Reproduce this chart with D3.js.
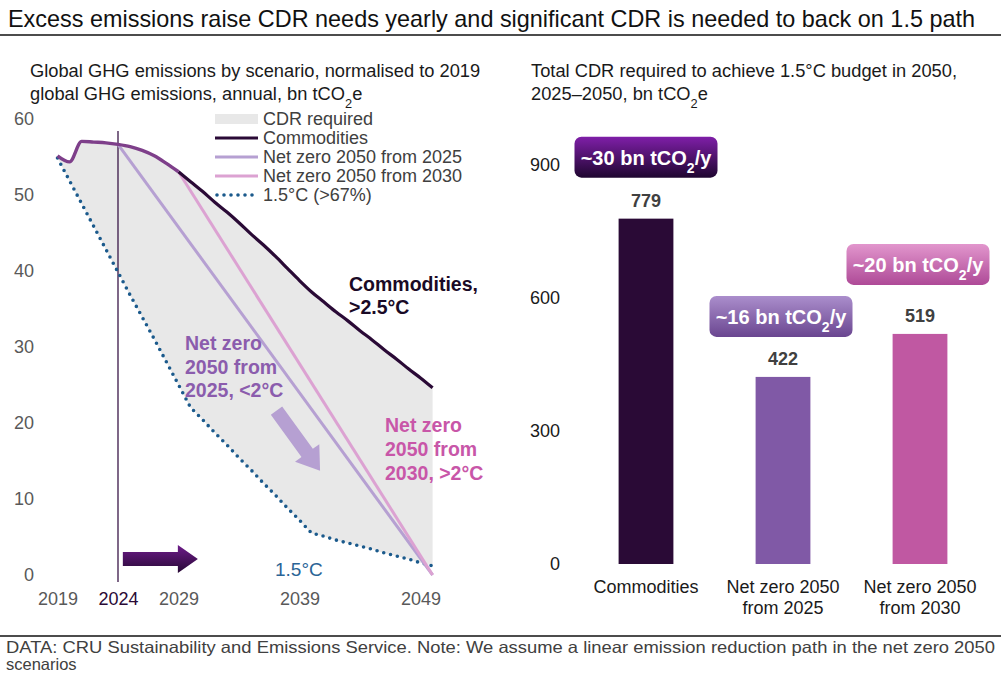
<!DOCTYPE html>
<html>
<head>
<meta charset="utf-8">
<script src="https://cdn.jsdelivr.net/npm/d3@7"></script>
<style>
  body { margin: 0; background: #fff; }
  svg { display: block; font-family: "Liberation Sans", Arial, sans-serif; }
</style>
</head>
<body>
<svg id="chart" width="1006" height="679"></svg>
<script>
// ---- data ----
const years = [2019, 2020, 2021, 2022, 2023, 2024, 2025, 2026, 2027, 2028, 2029, 2030,
  2031, 2032, 2033, 2034, 2035, 2036, 2037, 2038, 2039, 2040,
  2041, 2042, 2043, 2044, 2045, 2046, 2047, 2048, 2049, 2050];

// Commodities scenario (>2.5°C), bn tCO2e
const commodities = [55.1, 54.3, 57.0, 56.9, 56.8, 56.6, 56.3, 55.8, 55.1, 54.1, 53.0, 51.7,
  50.4, 49.0, 47.7, 46.3, 44.8, 43.4, 41.9, 40.3, 38.7, 37.2,
  35.9, 34.6, 33.4, 32.1, 30.9, 29.6, 28.4, 27.1, 25.9, 24.6];

// 1.5°C (>67%) pathway
const onePointFive = [54.8, 51.8, 48.8, 45.8, 42.8, 39.8, 36.8, 33.9, 31.0, 28.0, 25.0, 22.0,
  20.4, 18.7, 17.1, 15.4, 13.8, 12.1, 10.5, 8.8, 7.2, 5.5,
  5.1, 4.6, 4.2, 3.8, 3.4, 2.9, 2.5, 2.1, 1.6, 1.2];

// linear net zero paths [year, value]
const netZero2025 = [[2024, 56.6], [2050, 0]];
const netZero2030 = [[2029, 53.0], [2050, 0]];
const sharedUntil = 2029;   // lines overlap the commodities path up to here

const leftYTicks = [0, 10, 20, 30, 40, 50, 60];
const leftXTicks = [2019, 2024, 2029, 2039, 2049];

const barCategories = [["Commodities"], ["Net zero 2050", "from 2025"], ["Net zero 2050", "from 2030"]];
const barValues = [779, 422, 519];
const barRates = ["~30", "~16", "~20"];
const rightYTicks = [0, 300, 600, 900];

// ---- styles ----
const cDark = "#2a0a36";
const cShared = "#7e3f8a";
const cLav = "#b6a0d2";
const cPink = "#dca2d2";
const cDots = "#1b5a8c";
const barColors = ["#2a0a36", "#8059a6", "#c058a2"];
const badgeStops = [["#7f1fa8", "#1f0630"], ["#ab8ecc", "#6a4690"], ["#e296cd", "#ae4a97"]];
const badgeGap = [41, 40, 49];

const svg = d3.select("#chart");
const defs = svg.append("defs");

// helper: text with CO2 subscript
function co2Text(sel, before, after) {
  sel.append("tspan").text(before + "CO");
  sel.append("tspan").attr("baseline-shift", "sub").attr("font-size", "70%").text("2");
  sel.append("tspan").text(after);
}

// helper: block arrow polygon between two pixel points
function arrowPath(p0, p1, w, h, L) {
  const dx = p1[0] - p0[0], dy = p1[1] - p0[1];
  const len = Math.hypot(dx, dy);
  const ux = dx / len, uy = dy / len, nx = -uy, ny = ux;
  const bx = p1[0] - ux * L, by = p1[1] - uy * L;
  const pts = [
    [p0[0] + nx * w, p0[1] + ny * w],
    [bx + nx * w, by + ny * w],
    [bx + nx * h, by + ny * h],
    p1,
    [bx - nx * h, by - ny * h],
    [bx - nx * w, by - ny * w],
    [p0[0] - nx * w, p0[1] - ny * w]
  ];
  return "M" + pts.map(p => p.join(",")).join("L") + "Z";
}

// ---- title and footer ----
svg.append("text")
  .attr("x", 8).attr("y", 27)
  .attr("font-size", 24).attr("fill", "#111")
  .attr("textLength", 967).attr("lengthAdjust", "spacingAndGlyphs")
  .text("Excess emissions raise CDR needs yearly and significant CDR is needed to back on 1.5 path");
svg.append("line").attr("x1", 0).attr("x2", 1001).attr("y1", 35).attr("y2", 35)
  .attr("stroke", "#111").attr("stroke-width", 1.5);

svg.append("line").attr("x1", 0).attr("x2", 1001).attr("y1", 636).attr("y2", 636)
  .attr("stroke", "#111").attr("stroke-width", 1.5);
svg.append("text")
  .attr("x", 6).attr("y", 653).attr("font-size", 16.5).attr("fill", "#404040")
  .attr("textLength", 989).attr("lengthAdjust", "spacingAndGlyphs")
  .text("DATA: CRU Sustainability and Emissions Service. Note: We assume a linear emission reduction path in the net zero 2050");
svg.append("text")
  .attr("x", 6).attr("y", 670).attr("font-size", 16.5).attr("fill", "#404040")
  .text("scenarios");

// ================= LEFT: emissions by scenario =================
const xL = d3.scaleLinear().domain([2019, 2049]).range([57.5, 420.5]);
const yL = d3.scaleLinear().domain([0, 60]).range([575, 118.5]);

const sub1 = svg.append("text").attr("x", 30).attr("y", 77).attr("font-size", 18.3).attr("fill", "#1a1a1a");
sub1.text("Global GHG emissions by scenario, normalised to 2019");
const sub2 = svg.append("text").attr("x", 30).attr("y", 100).attr("font-size", 18.3).attr("fill", "#1a1a1a");
co2Text(sub2, "global GHG emissions, annual, bn t", "e");

const rows = years.map((yr, i) => ({ year: yr, com: commodities[i], lo: onePointFive[i] }));

// CDR required area
svg.append("path")
  .datum(rows)
  .attr("fill", "#e8e8e8")
  .attr("d", d3.area().x(d => xL(d.year)).y0(d => yL(d.lo)).y1(d => yL(d.com)));

// axes
const gy = svg.append("g").attr("transform", "translate(38,0)")
  .call(d3.axisLeft(yL).tickValues(leftYTicks).tickSize(0).tickPadding(4));
gy.select(".domain").remove();
gy.selectAll("text").attr("font-size", 18).attr("fill", "#595959").attr("font-family", null);

const gx = svg.append("g").attr("transform", "translate(0,575)")
  .call(d3.axisBottom(xL).tickValues(leftXTicks).tickFormat(d3.format("d")).tickSize(0).tickPadding(17));
gx.select(".domain").remove();
gx.selectAll("text").attr("font-size", 18).attr("font-family", null)
  .attr("fill", d => d === 2024 ? cDark : "#595959");

// 2024 marker line
svg.append("line")
  .attr("x1", xL(2024)).attr("x2", xL(2024))
  .attr("y1", 131).attr("y2", 582)
  .attr("stroke", "#3a1648").attr("stroke-width", 1.3);

const line = d3.line().x(d => xL(d[0])).y(d => yL(d[1]));

// 1.5°C dotted
svg.append("path")
  .datum(rows.map(d => [d.year, d.lo]))
  .attr("fill", "none").attr("stroke", cDots).attr("stroke-width", 3.6)
  .attr("stroke-linecap", "round").attr("stroke-dasharray", "0,7")
  .attr("d", line);

// net zero lines
svg.append("path").datum(netZero2025)
  .attr("fill", "none").attr("stroke", cLav).attr("stroke-width", 3).attr("d", line);
svg.append("path").datum(netZero2030)
  .attr("fill", "none").attr("stroke", cPink).attr("stroke-width", 3).attr("d", line);

// commodities
const curve = d3.line().x(d => xL(d[0])).y(d => yL(d[1])).curve(d3.curveMonotoneX);
svg.append("path")
  .datum(rows.filter(d => d.year >= sharedUntil).map(d => [d.year, d.com]))
  .attr("fill", "none").attr("stroke", cDark).attr("stroke-width", 3.2).attr("d", curve);
svg.append("path")
  .datum(rows.filter(d => d.year <= sharedUntil).map(d => [d.year, d.com]))
  .attr("fill", "none").attr("stroke", cShared).attr("stroke-width", 3.4)
  .attr("stroke-linejoin", "round").attr("d", curve);

// arrows
const gradA = defs.append("linearGradient").attr("id", "gradArrow")
  .attr("x1", 0).attr("y1", 0).attr("x2", 0).attr("y2", 1);
gradA.append("stop").attr("offset", "0%").attr("stop-color", "#6e1c8a");
gradA.append("stop").attr("offset", "100%").attr("stop-color", "#260834");

svg.append("path")
  .attr("d", arrowPath([xL(2024.4), yL(2.1)], [xL(2030.6), yL(2.1)], 7, 14, 20))
  .attr("fill", "url(#gradArrow)");
svg.append("path")
  .attr("d", arrowPath([xL(2037.1), yL(21.6)], [xL(2040.7), yL(13.7)], 7, 15, 22))
  .attr("fill", cLav);

// legend
const legend = svg.append("g").attr("font-size", 18).attr("fill", "#404040");
const legendItems = [
  { label: "CDR required", type: "area" },
  { label: "Commodities", type: "line", color: cDark },
  { label: "Net zero 2050 from 2025", type: "line", color: cLav },
  { label: "Net zero 2050 from 2030", type: "line", color: cPink },
  { label: "1.5°C (>67%)", type: "dots", color: cDots }
];
legendItems.forEach((it, i) => {
  const by = 125 + i * 19;
  const cy = by - 6;
  if (it.type === "area") {
    legend.append("rect").attr("x", 215).attr("y", cy - 5).attr("width", 43).attr("height", 10).attr("fill", "#e8e8e8");
  } else {
    legend.append("line").attr("x1", it.type === "dots" ? 217 : 215).attr("x2", 258).attr("y1", cy).attr("y2", cy)
      .attr("stroke", it.color).attr("stroke-width", it.type === "dots" ? 3.6 : 3)
      .attr("stroke-linecap", it.type === "dots" ? "round" : "butt")
      .attr("stroke-dasharray", it.type === "dots" ? "0,7" : null);
  }
  legend.append("text").attr("x", 263).attr("y", by).text(it.label);
});

// annotations
function multiText(lines, x, y0, step, color, bold, size) {
  const t = svg.append("text").attr("font-size", size).attr("fill", color)
    .attr("font-weight", bold ? "bold" : "normal");
  lines.forEach((l, i) => t.append("tspan").attr("x", x).attr("y", y0 + i * step).text(l));
}
multiText(["Commodities,", ">2.5°C"], 349, 291, 23, "#1a0a26", true, 19.5);
multiText(["Net zero", "2050 from", "2025, <2°C"], 185, 350, 23.5, "#8b5cad", true, 19.5);
multiText(["Net zero", "2050 from", "2030, >2°C"], 385, 432, 24, "#c856a8", true, 19.5);
multiText(["1.5°C"], 275, 576, 0, "#2a6496", false, 19);

// ================= RIGHT: total CDR bars =================
const xR = d3.scaleBand().domain(d3.range(barValues.length))
  .range([577.5, 988.5]).paddingInner(0.6).paddingOuter(0.3);
const yR = d3.scaleLinear().domain([0, 900]).range([564, 165]);

const sub3 = svg.append("text").attr("x", 531).attr("y", 77).attr("font-size", 18.3).attr("fill", "#1a1a1a");
sub3.text("Total CDR required to achieve 1.5°C budget in 2050,");
const sub4 = svg.append("text").attr("x", 531).attr("y", 100).attr("font-size", 18.3).attr("fill", "#1a1a1a");
co2Text(sub4, "2025–2050, bn t", "e");

const gyR = svg.append("g").attr("transform", "translate(564,0)")
  .call(d3.axisLeft(yR).tickValues(rightYTicks).tickSize(0).tickPadding(4));
gyR.select(".domain").remove();
gyR.selectAll("text").attr("font-size", 18).attr("fill", "#1a1a1a").attr("font-family", null);

svg.selectAll(".bar").data(barValues).enter().append("rect")
  .attr("class", "bar")
  .attr("x", (d, i) => xR(i))
  .attr("width", xR.bandwidth())
  .attr("y", d => yR(d))
  .attr("height", d => yR(0) - yR(d))
  .attr("fill", (d, i) => barColors[i]);

svg.selectAll(".val").data(barValues).enter().append("text")
  .attr("class", "val")
  .attr("x", (d, i) => xR(i) + xR.bandwidth() / 2)
  .attr("y", d => yR(d) - 12)
  .attr("text-anchor", "middle").attr("font-size", 18).attr("font-weight", "bold").attr("fill", "#404040")
  .text(d => d);

barCategories.forEach((lines, i) => {
  const t = svg.append("text").attr("text-anchor", "middle").attr("font-size", 18).attr("fill", "#1a1a1a");
  lines.forEach((l, j) => t.append("tspan").attr("x", xR(i) + xR.bandwidth() / 2).attr("y", 593 + j * 21).text(l));
});

// badges with yearly CDR rate
barRates.forEach((r, i) => {
  const g = defs.append("linearGradient").attr("id", "badge" + i)
    .attr("x1", 0).attr("y1", 0).attr("x2", 0).attr("y2", 1);
  g.append("stop").attr("offset", "0%").attr("stop-color", badgeStops[i][0]);
  g.append("stop").attr("offset", "100%").attr("stop-color", badgeStops[i][1]);

  const cx = xR(i) + xR.bandwidth() / 2 + (i === 0 ? 0 : -2);
  const bottom = yR(barValues[i]) - badgeGap[i];
  svg.append("rect")
    .attr("x", cx - 71.5).attr("y", bottom - 41)
    .attr("width", 143).attr("height", 41).attr("rx", 7)
    .attr("fill", `url(#badge${i})`);
  const t = svg.append("text").attr("x", cx).attr("y", bottom - 13)
    .attr("text-anchor", "middle").attr("font-size", 20).attr("font-weight", "bold").attr("fill", "#fff");
  co2Text(t, r + " bn t", "/y");
});
</script>
</body>
</html>
